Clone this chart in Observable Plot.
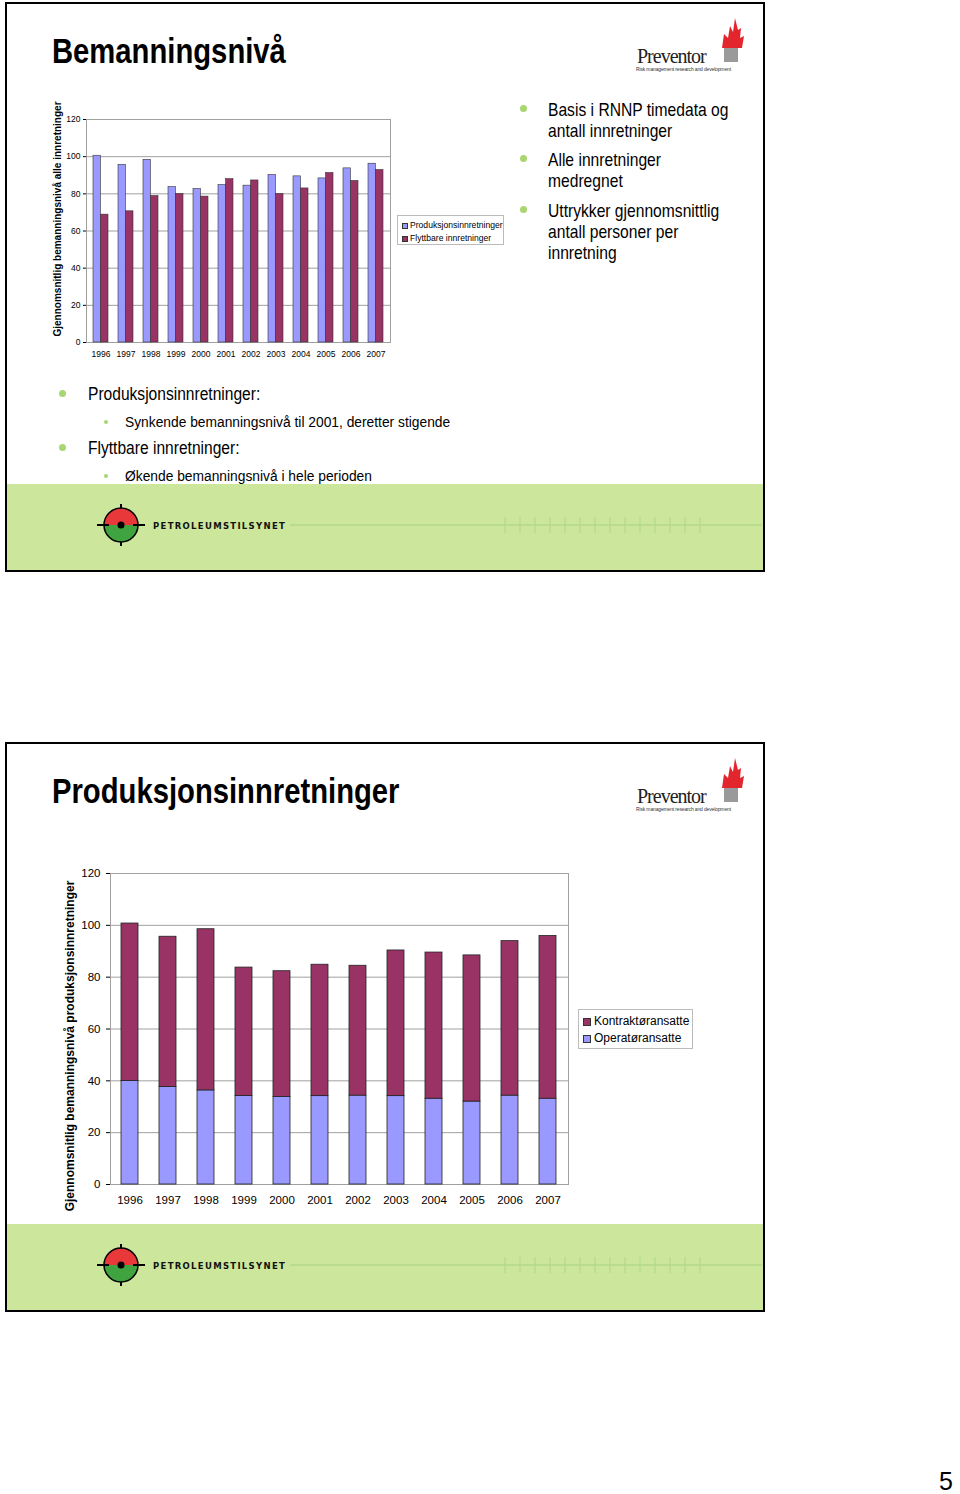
<!DOCTYPE html>
<html><head><meta charset="utf-8">
<script src="https://cdn.jsdelivr.net/npm/d3@7"></script>
<script src="https://cdn.jsdelivr.net/npm/@observablehq/plot@0.6"></script>
<style>
body{margin:0;background:#fff;}
#page{position:relative;width:960px;height:1494px;overflow:hidden;font-family:"Liberation Sans",Arial,sans-serif;background:#fff;}
.slide{position:absolute;border:2px solid #000;box-sizing:border-box;z-index:5;}
.band{position:absolute;background:#cce79b;}
.narrow{font-family:"Liberation Sans",Arial,sans-serif;transform-origin:0 0;}
.title{position:absolute;font-weight:bold;font-size:35px;line-height:40px;white-space:nowrap;color:#000;transform:scaleX(0.835);}
.txt{position:absolute;white-space:nowrap;color:#000;}
.dot{position:absolute;border-radius:50%;background:#a8d670;}
.chart{position:absolute;}
.legend{position:absolute;border:1px solid #bbb;background:#fff;box-sizing:border-box;font-family:"Liberation Sans",Arial,sans-serif;color:#000;}
.legend .row{display:flex;align-items:center;white-space:nowrap;}
.legend .sw{display:inline-block;border:1px solid #333;box-sizing:border-box;}
.logo{position:absolute;}
</style>
</head><body><div id="page"></div>
<script>
// ---------- data ----------
const years = ["1996","1997","1998","1999","2000","2001","2002","2003","2004","2005","2006","2007"];
const prodAll = [100.5, 95.6, 98.3, 83.6, 82.6, 84.7, 84.4, 90.1, 89.4, 88.3, 93.7, 96.2];
const flyttAll = [68.8, 70.6, 78.8, 79.9, 78.5, 87.9, 87.2, 79.9, 82.9, 91.2, 86.9, 92.8];
const seriesAll = ["Produksjonsinnretninger", "Flyttbare innretninger"];
const operator = [39.9, 37.6, 36.3, 34.2, 33.8, 34.1, 34.3, 34.1, 33.1, 32.0, 34.3, 33.1];
const contractor = [60.8, 58.0, 62.2, 49.5, 48.5, 50.7, 50.1, 56.2, 56.4, 56.4, 59.6, 62.8];
const seriesProd = ["Kontraktøransatte", "Operatøransatte"];
const yTicks = [0, 20, 40, 60, 80, 100, 120];
const yTitle1 = "Gjennomsnitlig bemanningsnivå alle innretninger";
const yTitle2 = "Gjennomsnitlig bemanningsnivå produksjonsinnretninger";
const title1 = "Bemanningsnivå";
const title2 = "Produksjonsinnretninger";
const rightBullets = [["Basis i RNNP timedata og", "antall innretninger"], ["Alle innretninger", "medregnet"], ["Uttrykker gjennomsnittlig", "antall personer per", "innretning"]];
const lowerBullets = [
  {text: "Produksjonsinnretninger:", sub: "Synkende bemanningsnivå til 2001, deretter stigende"},
  {text: "Flyttbare innretninger:", sub: "Økende bemanningsnivå i hele perioden"}
];
const blue = "#9999ff", maroon = "#993366";

const page = document.getElementById("page");
function el(tag, cls, css, html) {
  const e = document.createElement(tag);
  if (cls) e.className = cls;
  if (css) e.style.cssText = css;
  if (html != null) e.innerHTML = html;
  page.appendChild(e);
  return e;
}

// ---------- slide frames / bands / logos ----------
function slideDecor(top) {
  el("div", "slide", `left:5px;top:${top}px;width:760px;height:570px;`);
  el("div", "band", `left:7px;top:${top + 482}px;width:756px;height:86px;`);
  let ticks = "";
  for (let i = 0; i < 14; i++) { const x = 505 + i * 15; ticks += `<line x1="${x}" x2="${x}" y1="517" y2="533" stroke="#b5d98a" stroke-width="1.2"/>`; }
  el("div", "logo", `left:0;top:${top - 2}px;width:765px;height:600px;pointer-events:none;`,
    `<svg width="765" height="600" style="position:absolute;left:0;top:0">
      <line x1="290" x2="762" y1="525" y2="525" stroke="#b5d98a" stroke-width="1.5"/>
      ${ticks}
      <g transform="translate(121,525)">
        <line x1="0" x2="0" y1="-21" y2="21" stroke="#000" stroke-width="2"/>
        <line x1="-24" x2="24" y1="0" y2="0" stroke="#000" stroke-width="2"/>
        <path d="M-17,0 A17,17 0 0 1 17,0 Z" fill="#e8383a"/>
        <path d="M-17,0 A17,17 0 0 0 17,0 Z" fill="#3fa43f"/>
        <circle r="17" fill="none" stroke="#000" stroke-width="1.5"/>
        <line x1="-24" x2="-12" y1="0" y2="0" stroke="#000" stroke-width="2"/>
        <line x1="12" x2="24" y1="0" y2="0" stroke="#000" stroke-width="2"/>
        <circle r="3.5" fill="#000"/>
      </g>
      <text x="153" y="528.5" font-family="DejaVu Sans, sans-serif" font-weight="900" font-size="8.5" letter-spacing="1.3" fill="#111">PETROLEUMSTILSYNET</text>
      <rect x="724" y="46" width="14" height="16" fill="#9a9a9a"/>
      <path d="M722,48 L724,34 L728,38 L730,26 L733,32 L735,18 L738,30 L741,28 L740,38 L744,36 L742,48 Z" fill="#e3262d"/>
      <text x="637" y="63" font-family="Liberation Serif, Times New Roman, serif" font-size="20" letter-spacing="-1" fill="#222">Preventor</text>
      <text x="636" y="70.5" font-family="Liberation Sans, Arial, sans-serif" font-size="5" letter-spacing="-0.15" fill="#333">Risk management research and development</text>
    </svg>`);
}
slideDecor(2);
slideDecor(742);

// ---------- titles ----------
el("div", "title narrow", `left:52px;top:31px;`, title1);
el("div", "title narrow", `left:52px;top:771px;`, title2);

// ---------- right bullets (slide 1) ----------
const rbTops = [99, 149, 200];
rightBullets.forEach((lines, i) => {
  el("div", "dot", `left:520px;top:${rbTops[i] + 6}px;width:7px;height:7px;`);
  el("div", "txt narrow", `left:548px;top:${rbTops[i]}px;font-size:18.5px;line-height:21px;transform:scaleX(0.845);`, lines.join("<br>"));
});

// ---------- lower bullets ----------
const lbTops = [384, 438];
lowerBullets.forEach((b, i) => {
  const t = lbTops[i];
  el("div", "dot", `left:59px;top:${t + 6}px;width:7px;height:7px;`);
  el("div", "txt narrow", `left:88px;top:${t}px;font-size:17.5px;line-height:20px;transform:scaleX(0.89);`, b.text);
  el("div", "dot", `left:104px;top:${t + 36}px;width:4px;height:4px;`);
  el("div", "txt narrow", `left:125px;top:${t + 29}px;font-size:15.5px;line-height:18px;transform:scaleX(0.89);`, b.sub);
});

// ---------- chart 1: grouped bars ----------
const W1 = 360, H1 = 265, ML1 = 46, MR1 = 10, MT1 = 14, MB1 = 28;
const pi1 = 0.4, po1 = 0.2;
const bw1 = (W1 - ML1 - MR1) * (1 - pi1) / (years.length - pi1 + 2 * po1);
const rows1 = years.map((y, i) => ({year: y, prod: prodAll[i], flytt: flyttAll[i]}));
const chart1 = Plot.plot({
  width: W1, height: H1, marginLeft: ML1, marginRight: MR1, marginTop: MT1, marginBottom: MB1,
  style: {fontFamily: "Liberation Sans, Arial, sans-serif", fontSize: "8.5px", color: "#000", background: "transparent", overflow: "visible"},
  x: {domain: years, paddingInner: pi1, paddingOuter: po1, tickSize: 0, tickPadding: 8, label: null},
  y: {domain: [0, 120], ticks: yTicks, tickSize: 3, tickPadding: 3, label: null},
  marks: [
    Plot.ruleY(yTicks, {stroke: "#a0a0a0", strokeWidth: 1}),
    Plot.frame({stroke: "#a0a0a0"}),
    Plot.barY(rows1, {x: "year", y: "prod", fill: blue, stroke: "#333", strokeWidth: 0.6, insetRight: bw1 / 2}),
    Plot.barY(rows1, {x: "year", y: "flytt", fill: maroon, stroke: "#333", strokeWidth: 0.6, insetLeft: bw1 / 2}),
    Plot.text([yTitle1], {frameAnchor: "left", text: d => d, rotate: -90, textAnchor: "middle", dx: -29, dy: -12, fontWeight: "bold", fontSize: 10})
  ]
});
const c1 = el("div", "chart", `left:40px;top:105px;`);
c1.appendChild(chart1);

// legend 1
const lg1 = el("div", "legend", `left:397px;top:215px;width:107px;height:30px;padding:3px 0 0 4px;font-size:8.6px;line-height:13px;`);
[blue, maroon].forEach((c, i) => {
  const r = document.createElement("div"); r.className = "row";
  r.innerHTML = `<span class="sw" style="width:6px;height:6px;background:${c};margin-right:2px"></span>${seriesAll[i]}`;
  lg1.appendChild(r);
});

// ---------- chart 2: stacked bars ----------
const W2 = 535, H2 = 360, ML2 = 70, MR2 = 7, MT2 = 13, MB2 = 36;
const rows2 = [
  ...years.map((y, i) => ({year: y, series: seriesProd[1], value: operator[i]})),
  ...years.map((y, i) => ({year: y, series: seriesProd[0], value: contractor[i]}))
];
const chart2 = Plot.plot({
  width: W2, height: H2, marginLeft: ML2, marginRight: MR2, marginTop: MT2, marginBottom: MB2,
  style: {fontFamily: "Liberation Sans, Arial, sans-serif", fontSize: "11.5px", color: "#000", background: "transparent", overflow: "visible"},
  x: {domain: years, paddingInner: 0.55, paddingOuter: 0.27, tickSize: 0, tickPadding: 11, label: null},
  y: {domain: [0, 120], ticks: yTicks, tickSize: 4, tickPadding: 6, label: null},
  color: {domain: seriesProd, range: [maroon, blue]},
  marks: [
    Plot.ruleY(yTicks, {stroke: "#a0a0a0", strokeWidth: 1}),
    Plot.frame({stroke: "#a0a0a0"}),
    Plot.barY(rows2, {x: "year", y: "value", fill: "series", stroke: "#222", strokeWidth: 0.8}),
    Plot.text([yTitle2], {frameAnchor: "left", text: d => d, rotate: -90, textAnchor: "middle", dx: -40, dy: 17, fontWeight: "bold", fontSize: 12})
  ]
});
const c2 = el("div", "chart", `left:40px;top:860px;`);
c2.appendChild(chart2);

// legend 2
const lg2 = el("div", "legend", `left:578px;top:1009px;width:115px;height:40px;padding:3px 0 0 4px;font-size:12px;line-height:17px;`);
[maroon, blue].forEach((c, i) => {
  const r = document.createElement("div"); r.className = "row";
  r.innerHTML = `<span class="sw" style="width:8px;height:8px;background:${c};margin-right:3px"></span>${seriesProd[i]}`;
  lg2.appendChild(r);
});

// page number
el("div", "txt", `left:939px;top:1470px;font-size:25px;line-height:23px;font-family:'Liberation Sans',Arial,sans-serif;`, "5");
</script>
</body></html>
